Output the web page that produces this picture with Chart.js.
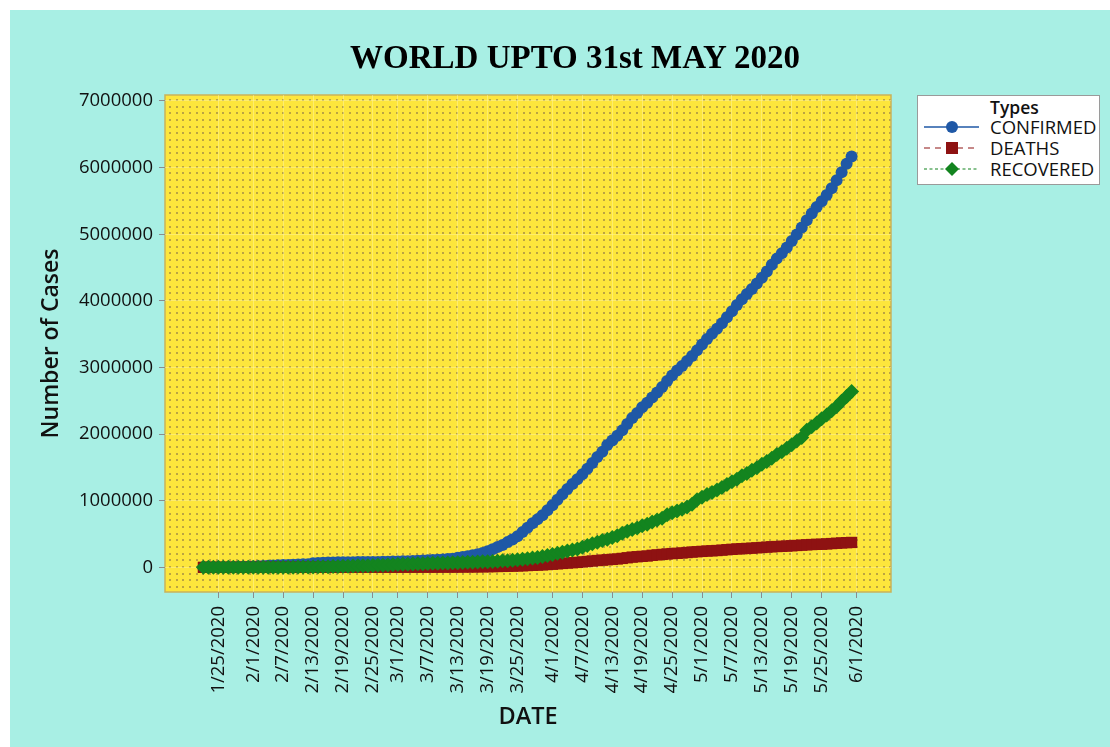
<!DOCTYPE html>
<html>
<head>
<meta charset="utf-8">
<script src="https://cdn.jsdelivr.net/npm/chart.js@4.4.1/dist/chart.umd.min.js"></script>
<style>
  html, body { margin: 0; padding: 0; background: #ffffff; }
  #wrap { position: absolute; left: 10px; top: 10px; width: 1100px; height: 737px; background: #a8efe4; }
  #chart { position: absolute; left: 0; top: 0; }
  #title {
    position: absolute; left: 0; top: 27px; width: 1130px; text-align: center;
    font-family: "Liberation Serif", serif; font-weight: bold; font-size: 33px; line-height: 40px; color: #000;
  }
  #legend {
    position: absolute; left: 907px; top: 85px; width: 183px; height: 90px;
    background: #ffffff; border: 1px solid #9a9a9a; box-sizing: border-box;
    font-family: "Open Sans", sans-serif; font-size: 18.5px; color: #111;
  }
  #legend .ttl { position: absolute; left: 72px; top: 0px; font-weight: 600; font-size: 17.5px; line-height: 22px; }
  #legend .row { position: absolute; left: 6px; height: 21px; line-height: 21px; }
  #legend .row svg { position: absolute; left: 0; top: 1px; }
  #legend .row span { position: absolute; left: 66px; white-space: nowrap; }
</style>
</head>
<body>
<div id="wrap">
  <canvas id="chart" width="1100" height="737"></canvas>
  <div id="title">WORLD UPTO 31st MAY 2020</div>
  <div id="legend">
    <div class="ttl">Types</div>
    <div class="row" style="top:20px">
      <svg width="60" height="20"><line x1="0" y1="10" x2="55" y2="10" stroke="#1f58a6" stroke-width="1.5"/><circle cx="28" cy="10" r="6" fill="#1f58a6"/></svg>
      <span>CONFIRMED</span>
    </div>
    <div class="row" style="top:41px">
      <svg width="60" height="20"><line x1="0" y1="10" x2="55" y2="10" stroke="#8e1212" stroke-width="1.2" stroke-dasharray="6,5"/><rect x="22" y="4" width="12" height="12" fill="#8e1212"/></svg>
      <span>DEATHS</span>
    </div>
    <div class="row" style="top:62px">
      <svg width="60" height="20"><line x1="0" y1="10" x2="55" y2="10" stroke="#13841f" stroke-width="1.2" stroke-dasharray="3,2.5"/><polygon points="28,3 35,10 28,17 21,10" fill="#13841f"/></svg>
      <span>RECOVERED</span>
    </div>
  </div>
</div>
<script>
// daily world totals, one value per day starting 1/22/2020
const startDate = "1/22/2020";

const confirmed = [
  555, 654, 941, 1434, 2118, 2927, 5578, 6166, 8234, 9927,
  12038, 16787, 19887, 23898, 27643, 30802, 34395, 37129, 40160, 42769,
  44811, 45229, 60381, 66909, 69052, 71235, 73270, 75152, 75652, 76212,
  76841, 78602, 78982, 79546, 80399, 81376, 82738, 84124, 86013,
  88371, 90309, 92844, 95124, 97886, 101800, 105836, 109835, 113582, 118582,
  125865, 128343, 145193, 156094, 167446, 181527, 197142, 214910, 242708, 272166,
  304524, 335955, 378723, 418045, 467653, 529591, 593291, 660706, 720117, 782365, 857487,
  932605, 1013157, 1095917, 1176060, 1249754, 1321481, 1396476, 1479804, 1565278, 1657526,
  1735650, 1834721, 1904838, 1976191, 2056054, 2152437, 2240190, 2317758, 2401378, 2472259,
  2549123, 2624068, 2708403, 2795729, 2881140, 2955033, 3023722, 3097229, 3172287, 3256846,
  3343777, 3427584, 3506729, 3583055, 3662691, 3755341, 3845718, 3938064, 4024009, 4101699,
  4177502, 4261747, 4347018, 4442163, 4542347, 4634068, 4713620, 4801943, 4897492, 4996472,
  5102424, 5210817, 5310362, 5407613, 5495061, 5589626, 5691790, 5808946, 5930816, 6059017, 6166946
];

const deaths = [
  17, 18, 26, 42, 56, 82, 131, 133, 171, 213,
  259, 362, 426, 492, 564, 634, 719, 806, 906, 1013,
  1113, 1118, 1371, 1523, 1666, 1770, 1868, 2007, 2122, 2247,
  2251, 2458, 2469, 2629, 2708, 2770, 2814, 2872, 2941,
  2996, 3085, 3160, 3254, 3348, 3460, 3558, 3802, 3988, 4262,
  4615, 4720, 5404, 5819, 6440, 7126, 7905, 8733, 9867, 11299,
  12973, 14623, 16497, 18615, 21181, 23970, 27198, 30652, 33925, 37582, 42107,
  46809, 52983, 58787, 64606, 69374, 74565, 81865, 88338, 95455, 102525,
  108503, 114091, 119482, 125984, 134176, 143800, 153821, 159509, 165043, 169985,
  180686, 187330, 194227, 200918, 206563, 210713, 216154, 222326, 229054, 234377,
  239658, 244782, 248246, 252524, 258469, 264939, 270722, 276121, 280650, 284144,
  287667, 293387, 298425, 303649, 308625, 312613, 315792, 319240, 323896, 328717,
  333303, 338246, 342295, 345407, 346751, 351911, 356949, 361772, 366483, 370654, 373973
];

const recovered = [
  28, 30, 36, 39, 52, 61, 107, 126, 143, 222,
  284, 472, 623, 852, 1124, 1487, 2011, 2616, 3244, 3946,
  4683, 5150, 6295, 8058, 9395, 10865, 12583, 14352, 16121, 18177,
  18890, 22886, 23394, 25227, 27905, 30384, 33277, 36711, 39782,
  42716, 45602, 48228, 51170, 53796, 55865, 58358, 60694, 62494, 64404,
  67003, 68324, 70251, 72624, 76034, 78088, 80840, 83207, 84854, 87256,
  91499, 97704, 98336, 107969, 113785, 122150, 130915, 139415, 149082, 164566, 178034,
  193177, 210263, 225796, 246152, 260012, 276515, 300054, 328661, 353975, 376096,
  402110, 421722, 448655, 474261, 511019, 542107, 568343, 592319, 623903, 645738,
  679819, 710263, 738486, 789914, 817721, 845056, 873436, 906988, 948425, 1013870,
  1052415, 1093112, 1125236, 1162724, 1198832, 1245413, 1284741, 1322050, 1375624, 1408980,
  1456209, 1493414, 1548547, 1587893, 1637067, 1693197, 1733963, 1786875, 1838995, 1897466,
  1948739, 2056643, 2112185, 2168563, 2231738, 2286956, 2350088, 2415840, 2493353, 2564294, 2640203
];

const xTickLabels = [
  "1/25/2020", "2/1/2020", "2/7/2020", "2/13/2020", "2/19/2020", "2/25/2020", "3/1/2020",
  "3/7/2020", "3/13/2020", "3/19/2020", "3/25/2020", "4/1/2020", "4/7/2020", "4/13/2020",
  "4/19/2020", "4/25/2020", "5/1/2020", "5/7/2020", "5/13/2020", "5/19/2020", "5/25/2020", "6/1/2020"
];
const yTicks = [0, 1000000, 2000000, 3000000, 4000000, 5000000, 6000000, 7000000];

function dayNumber(s) {
  const [m, d, y] = s.split("/").map(Number);
  return Date.UTC(y, m - 1, d) / 86400000;
}
const day0 = dayNumber(startDate);
const xTickValues = xTickLabels.map(s => dayNumber(s) - day0);
const toPoints = arr => arr.map((v, i) => ({ x: i, y: v }));

// yellow plot area with the dotted Minitab-style pattern
const plotBackground = {
  id: "plotBackground",
  beforeDraw(chart) {
    const { ctx, chartArea: a } = chart;
    ctx.save();
    ctx.fillStyle = "#fde63c";
    ctx.fillRect(a.left, a.top, a.right - a.left, a.bottom - a.top);
    ctx.fillStyle = "#bba441";
    const step = 6.67;
    for (let y = a.top + 4; y < a.bottom - 1; y += step) {
      for (let x = a.left + 4; x < a.right - 1; x += step) {
        ctx.fillRect(Math.round(x), Math.round(y), 2, 2);
      }
    }
    ctx.strokeStyle = "#c9b25a";
    ctx.lineWidth = 1.5;
    ctx.strokeRect(a.left, a.top, a.right - a.left, a.bottom - a.top);
    ctx.restore();
  }
};

const gridStyle = { color: "rgba(255,246,170,0.45)", tickColor: "#8c8c8c", tickLength: 6, lineWidth: 1 };

const ctx = document.getElementById("chart");
new Chart(ctx, {
  type: "line",
  data: {
    datasets: [
      {
        label: "CONFIRMED",
        data: toPoints(confirmed),
        borderColor: "#1f58a6",
        backgroundColor: "#1f58a6",
        borderWidth: 1.5,
        pointStyle: "circle",
        pointRadius: 6,
        pointBorderWidth: 0,
        order: 3,
      },
      {
        label: "DEATHS",
        data: toPoints(deaths),
        borderColor: "#8e1212",
        backgroundColor: "#8e1212",
        borderWidth: 1.2,
        borderDash: [6, 5],
        pointStyle: "rect",
        pointRadius: 8,
        pointBorderWidth: 0,
        order: 2,
      },
      {
        label: "RECOVERED",
        data: toPoints(recovered),
        borderColor: "#13841f",
        backgroundColor: "#13841f",
        borderWidth: 1.2,
        borderDash: [3, 2.5],
        pointStyle: "rectRot",
        pointRadius: 7.5,
        pointBorderWidth: 0,
        order: 1,
      },
    ]
  },
  options: {
    responsive: false,
    animation: false,
    layout: { padding: { left: 0, right: 219, top: 85, bottom: 0 } },
    plugins: {
      legend: { display: false },
      tooltip: { enabled: false },
      title: { display: false }
    },
    scales: {
      x: {
        type: "linear",
        min: -7.7,
        max: 137.9,
        afterFit: (scale) => { scale.height = 155; },
        afterBuildTicks: (scale) => { scale.ticks = xTickValues.map(v => ({ value: v })); },
        ticks: {
          autoSkip: false,
          minRotation: 90,
          maxRotation: 90,
          padding: 8,
          color: "#111111",
          font: { family: "Open Sans", size: 18.5 },
          callback: (value, index) => xTickLabels[index],
        },
        grid: gridStyle,
        border: { display: false },
        title: {
          display: true,
          text: "DATE",
          color: "#111111",
          font: { family: "Open Sans", size: 23.5, weight: "600", lineHeight: 1.2 },
          padding: { top: 0, bottom: 16 },
        }
      },
      y: {
        min: -370000,
        max: 7090000,
        afterFit: (scale) => { scale.width = 155; },
        afterBuildTicks: (scale) => { scale.ticks = yTicks.map(v => ({ value: v })); },
        ticks: {
          padding: 6,
          color: "#111111",
          font: { family: "Open Sans", size: 18.5 },
          callback: (value) => String(value),
        },
        grid: gridStyle,
        border: { display: false },
        title: {
          display: true,
          text: "Number of Cases",
          color: "#111111",
          font: { family: "Open Sans", size: 23, weight: "600", lineHeight: 1.2 },
          padding: { top: 28 },
        }
      }
    }
  },
  plugins: [plotBackground]
});
</script>
</body>
</html>
